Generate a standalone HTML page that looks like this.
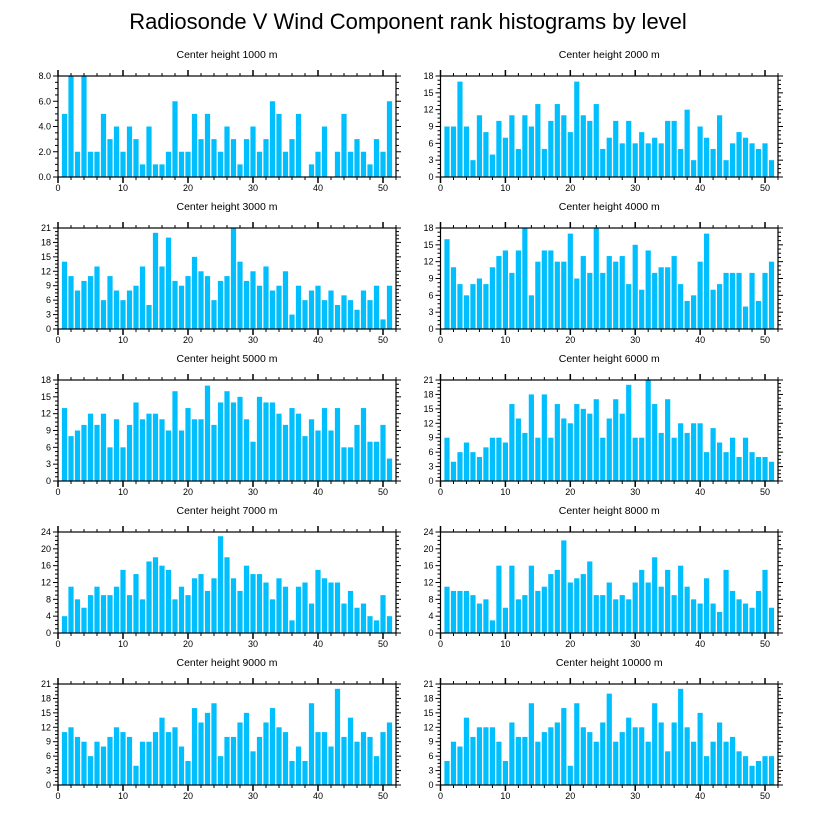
<!DOCTYPE html>
<html><head><meta charset="utf-8"><style>
html,body{margin:0;padding:0;background:#fff;}
svg{display:block;font-family:"Liberation Sans",Arial,sans-serif;}
</style></head><body>
<svg id="chart" width="818" height="824" viewBox="0 0 818 824" xmlns="http://www.w3.org/2000/svg">
<rect width="818" height="824" fill="#fff"/>
<text x="408" y="29" font-size="22" text-anchor="middle" fill="#000">Radiosonde V Wind Component rank histograms by level</text>
</svg>
<script>
const levels = ["1000","2000","3000","4000","5000","6000","7000","8000","9000","10000"];
const yMaxes = [8,18,21,18,18,21,24,24,21,21];
const yStepsArr = [2,3,3,3,3,3,4,4,3,3];
const xTicks = [0,10,20,30,40,50];
const s1000 = [5,8,2,8,2,2,5,3,4,2,4,3,1,4,1,1,2,6,2,2,5,3,5,3,2,4,3,1,3,4,2,3,6,5,2,3,5,0,1,2,4,0,2,5,2,3,2,1,3,2,6];
const s2000 = [9,9,17,9,3,11,8,4,10,7,11,5,11,9,13,5,10,13,11,8,17,11,10,13,5,7,10,6,10,6,8,6,7,6,10,10,5,12,3,9,7,5,11,3,6,8,7,6,5,6,3];
const s3000 = [14,11,8,10,11,13,6,11,8,6,8,9,13,5,20,13,19,10,9,11,15,12,11,6,10,11,21,14,10,12,9,13,8,9,12,3,9,6,8,9,6,8,5,7,6,4,8,6,9,2,9];
const s4000 = [16,11,8,6,8,9,8,11,13,14,10,14,18,6,12,14,14,12,12,17,9,13,10,18,10,13,12,13,8,15,7,14,10,11,11,13,8,5,6,12,17,7,8,10,10,10,4,10,5,10,12];
const s5000 = [13,8,9,10,12,10,12,6,11,6,10,14,11,12,12,11,9,16,9,13,11,11,17,10,14,16,14,15,11,7,15,14,14,12,10,13,12,8,11,9,13,9,13,6,6,10,13,7,7,10,4];
const s6000 = [9,4,6,8,6,5,7,9,9,8,16,13,10,18,9,18,9,16,13,12,16,15,14,17,9,13,17,14,20,9,9,21,16,10,17,9,12,10,12,12,6,11,8,6,9,5,9,6,5,5,4];
const s7000 = [4,11,8,6,9,11,9,9,11,15,9,14,8,17,18,16,15,8,11,9,13,14,10,13,23,18,13,10,16,14,14,12,8,13,11,3,11,12,7,15,13,12,12,7,10,6,7,4,3,9,4];
const s8000 = [11,10,10,10,9,7,8,3,16,6,16,8,9,16,10,11,14,15,22,12,13,14,17,9,9,12,8,9,8,12,15,12,18,11,15,9,16,11,8,7,13,7,5,15,10,8,7,6,10,15,6];
const s9000 = [11,12,10,9,6,9,8,10,12,11,10,4,9,9,11,14,11,12,8,5,16,13,15,17,6,10,10,13,15,7,10,13,16,12,11,5,8,5,17,11,11,8,20,10,14,9,11,10,6,11,13];
const s10000 = [5,9,8,14,10,12,12,12,9,5,13,10,10,17,9,11,12,13,16,4,17,12,11,9,13,19,9,11,14,12,12,9,17,13,7,13,20,12,9,15,6,9,13,9,10,7,6,4,5,6,6];
const seriesList = [s1000,s2000,s3000,s4000,s5000,s6000,s7000,s8000,s9000,s10000];

const NS="http://www.w3.org/2000/svg";
const svg=document.getElementById('chart');
function mk(tag,attrs,parent){const e=document.createElementNS(NS,tag);for(const k in attrs)e.setAttribute(k,attrs[k]);(parent||svg).appendChild(e);return e;}

const XMAX=52;
levels.forEach((lv,i)=>{
  const col=i%2,row=Math.floor(i/2);
  const L = col===0?58:440.5, R = col===0?396:778;
  const T = 76+152*row, B = T+101;
  const xs=v=>L+(v/XMAX)*(R-L);
  const ys=v=>B-(v/yMaxes[i])*(B-T);
  const g=mk('g',{});
  
  
  const t=mk('text',{x:(L+R)/2,y:T-18,'font-size':10.5,'text-anchor':'middle',fill:'#000'},g);
  t.textContent='Center height '+lv+' m';
  
  
  const data=seriesList[i];
  data.forEach((v,k)=>{
    const x=k+1;
    const r=mk('rect',{x:xs(x-0.4),y:ys(v),width:xs(0.8)-xs(0),height:B-ys(v),fill:'#00BFFF'},g);
    
    
  });
  for(let v=0;v<=XMAX;v+=2){
    const maj=v%10===0;const len=maj?6:3;const x=xs(v);
    mk('line',{x1:x,x2:x,y1:B,y2:B+len,stroke:'#000','stroke-width':maj?1.5:1},g);
    mk('line',{x1:x,x2:x,y1:T,y2:T-len,stroke:'#000','stroke-width':maj?1.5:1},g);
  }
  xTicks.forEach(v=>{
    const tx=mk('text',{x:xs(v),y:B+14,'font-size':9,'text-anchor':'middle',fill:'#000'},g);
    tx.textContent=v;
    
    
  });
  const st=yStepsArr[i];const mn=st/4;
  for(let v=0;v<=yMaxes[i]+1e-9;v+=mn){
    const maj=Math.abs(v/st-Math.round(v/st))<1e-6;const len=maj?5:3;const y=ys(v);
    mk('line',{x1:L,x2:L-len,y1:y,y2:y,stroke:'#000','stroke-width':1},g);
    mk('line',{x1:R,x2:R+len,y1:y,y2:y,stroke:'#000','stroke-width':1},g);
  }
  for(let v=0;v<=yMaxes[i];v+=st){
    const ty=mk('text',{x:L-7,y:ys(v)+3,'font-size':9,'text-anchor':'end',fill:'#000'},g);
    ty.textContent= i===0? v.toFixed(1): v;
    
    
  }
  mk('rect',{x:L,y:T,width:R-L,height:B-T,fill:'none',stroke:'#000','stroke-width':1.2},g);
});
</script>
</body></html>
